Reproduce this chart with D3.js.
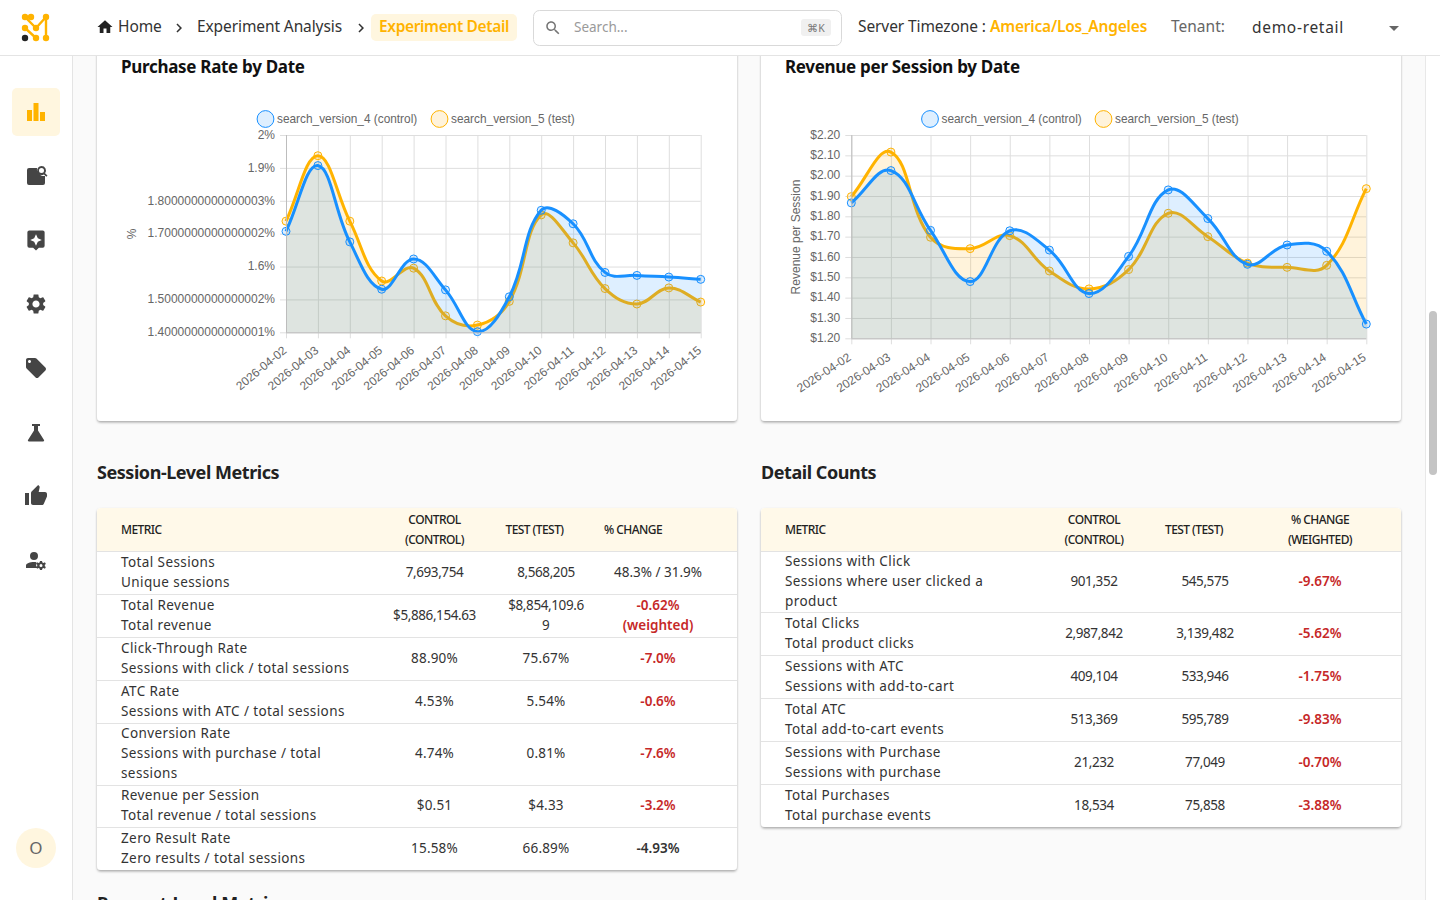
<!DOCTYPE html>
<html><head><meta charset="utf-8">
<script src="https://cdn.jsdelivr.net/npm/d3@7/dist/d3.min.js"></script>
<style>
html,body{margin:0;padding:0;width:1440px;height:900px;overflow:hidden;background:#fafafa}
svg{display:block;position:absolute;left:0;top:0}
text{font-family:"Noto Sans",sans-serif}
.chart text{font-family:"Liberation Sans",Arial,sans-serif}
</style></head><body>
<svg id="page" width="1440" height="900"></svg>
<script>
// ---------- chart data ----------
const dates = ["2026-04-02","2026-04-03","2026-04-04","2026-04-05","2026-04-06","2026-04-07","2026-04-08","2026-04-09","2026-04-10","2026-04-11","2026-04-12","2026-04-13","2026-04-14","2026-04-15"];
const purchaseControl = [1.707,1.907,1.675,1.531,1.623,1.529,1.402,1.508,1.771,1.730,1.582,1.573,1.568,1.561];
const purchaseTest    = [1.738,1.937,1.738,1.556,1.595,1.450,1.422,1.494,1.757,1.672,1.533,1.486,1.535,1.492];
const revenueControl  = [1.866,2.025,1.731,1.479,1.729,1.634,1.420,1.603,1.930,1.789,1.564,1.659,1.628,1.270];
const revenueTest     = [1.897,2.116,1.697,1.641,1.705,1.531,1.443,1.538,1.815,1.700,1.570,1.549,1.559,1.936];
const purchaseTickValues = [1.4,1.5,1.6,1.7,1.8,1.9,2.0];
const purchaseTickLabels = ["1.4000000000000001%","1.5000000000000002%","1.6%","1.7000000000000002%","1.8000000000000003%","1.9%","2%"];
const revenueTickValues = [1.2,1.3,1.4,1.5,1.6,1.7,1.8,1.9,2.0,2.1,2.2];
const revenueTickLabels = ["$1.20","$1.30","$1.40","$1.50","$1.60","$1.70","$1.80","$1.90","$2.00","$2.10","$2.20"];
const legendLabels = ["search_version_4 (control)","search_version_5 (test)"];

// ---------- table data ----------
const sessionHeaders = [["METRIC"],["CONTROL","(CONTROL)"],["TEST (TEST)"],["% CHANGE"]];
const sessionMetrics = [["Total Sessions","Unique sessions"],["Total Revenue","Total revenue"],["Click-Through Rate","Sessions with click / total sessions"],["ATC Rate","Sessions with ATC / total sessions"],["Conversion Rate","Sessions with purchase / total","sessions"],["Revenue per Session","Total revenue / total sessions"],["Zero Result Rate","Zero results / total sessions"]];
const sessionControl = [["7,693,754"],["$5,886,154.63"],["88.90%"],["4.53%"],["4.74%"],["$0.51"],["15.58%"]];
const sessionTest = [["8,568,205"],["$8,854,109.6","9"],["75.67%"],["5.54%"],["0.81%"],["$4.33"],["66.89%"]];
const sessionChange = [["48.3% / 31.9%"],["-0.62%","(weighted)"],["-7.0%"],["-0.6%"],["-7.6%"],["-3.2%"],["-4.93%"]];
const sessionChangeTone = ["plain","bad","bad","bad","bad","bad","dark"];
const detailHeaders = [["METRIC"],["CONTROL","(CONTROL)"],["TEST (TEST)"],["% CHANGE","(WEIGHTED)"]];
const detailMetrics = [["Sessions with Click","Sessions where user clicked a","product"],["Total Clicks","Total product clicks"],["Sessions with ATC","Sessions with add-to-cart"],["Total ATC","Total add-to-cart events"],["Sessions with Purchase","Sessions with purchase"],["Total Purchases","Total purchase events"]];
const detailControl = [["901,352"],["2,987,842"],["409,104"],["513,369"],["21,232"],["18,534"]];
const detailTest = [["545,575"],["3,139,482"],["533,946"],["595,789"],["77,049"],["75,858"]];
const detailChange = [["-9.67%"],["-5.62%"],["-1.75%"],["-9.83%"],["-0.70%"],["-3.88%"]];
const detailChangeTone = ["bad","bad","bad","bad","bad","bad"];

// ---------- palette / icons ----------
const BLUE="#1890ff", AMBER="#ffb300", INK="#1f1f1f", ICON="#454545";
const BLUE_FILL="rgba(24,144,255,.14)", AMBER_FILL="rgba(255,170,0,.14)";
const ICONS = {
 home:"M10 20v-6h4v6h5v-8h3L12 3 2 12h3v8z",
 search:"M15.5 14h-.79l-.28-.27C15.41 12.59 16 11.11 16 9.5 16 5.91 13.09 3 9.5 3S3 5.91 3 9.5 5.91 16 9.5 16c1.61 0 3.09-.59 4.23-1.57l.27.28v.79l5 4.99L20.49 19l-4.99-5zm-6 0C7.01 14 5 11.99 5 9.5S7.01 5 9.5 5 14 7.01 14 9.5 11.99 14 9.5 14z",
 chev:"M8.59 16.59 13.17 12 8.59 7.41 10 6l6 6-6 6z",
 bars:"M3 10h5v11H3zM9.5 3h5v18h-5zM16 12h5v9h-5z",
 report:"M3 6a2 2 0 0 1 2-2h8a7 7 0 0 0 8 8v7a2 2 0 0 1-2 2H5a2 2 0 0 1-2-2zM17.5 2a4.5 4.5 0 0 1 3.6 7.2l2.4 2.4-1.2 1.2-2.4-2.4A4.5 4.5 0 1 1 17.5 2zm0 2a2.5 2.5 0 1 0 0 5 2.5 2.5 0 0 0 0-5z",
 spark:"M19 2H5a2 2 0 0 0-2 2v14a2 2 0 0 0 2 2h4l3 3 3-3h4a2 2 0 0 0 2-2V4a2 2 0 0 0-2-2zm-7 16-1.9-4.1L6 12l4.1-1.9L12 6l1.9 4.1L18 12l-4.1 1.9z",
 gear:"M19.14 12.94c.04-.3.06-.61.06-.94 0-.32-.02-.64-.07-.94l2.03-1.58c.18-.14.23-.41.12-.61l-1.92-3.32c-.12-.22-.37-.29-.59-.22l-2.39.96c-.5-.38-1.03-.7-1.62-.94l-.36-2.54c-.04-.24-.24-.41-.48-.41h-3.84c-.24 0-.43.17-.47.41l-.36 2.54c-.59.24-1.13.57-1.62.94l-2.39-.96c-.22-.08-.47 0-.59.22L2.74 8.87c-.12.21-.08.47.12.61l2.03 1.58c-.05.3-.09.63-.09.94s.02.64.07.94l-2.03 1.58c-.18.14-.23.41-.12.61l1.92 3.32c.12.22.37.29.59.22l2.39-.96c.5.38 1.03.7 1.62.94l.36 2.54c.05.24.24.41.48.41h3.84c.24 0 .44-.17.47-.41l.36-2.54c.59-.24 1.13-.56 1.62-.94l2.39.96c.22.08.47 0 .59-.22l1.92-3.32c.12-.22.07-.47-.12-.61l-2.01-1.58zM12 15.6c-1.98 0-3.6-1.62-3.6-3.6s1.62-3.6 3.6-3.6 3.6 1.62 3.6 3.6-1.62 3.6-3.6 3.6z",
 tag:"M21.41 11.58l-9-9C12.05 2.22 11.55 2 11 2H4c-1.1 0-2 .9-2 2v7c0 .55.22 1.05.59 1.42l9 9c.36.36.86.58 1.41.58s1.05-.22 1.41-.59l7-7c.37-.36.59-.86.59-1.41s-.23-1.06-.59-1.42zM5.5 7C4.67 7 4 6.33 4 5.5S4.67 4 5.5 4 7 4.67 7 5.5 6.33 7 5.5 7z",
 flask:"M8 4h8v2h-2v4.5l6 9.5a1 1 0 0 1-.9 1.5H4.9a1 1 0 0 1-.9-1.5l6-9.5V6H8z",
 thumb:"M1 21h4V9H1v12zm22-11c0-1.1-.9-2-2-2h-6.31l.95-4.57.03-.32c0-.41-.17-.79-.44-1.06L14.17 1 7.59 7.59C7.22 7.95 7 8.45 7 9v10c0 1.1.9 2 2 2h9c.83 0 1.54-.5 1.84-1.22l3.02-7.05c.09-.23.14-.47.14-.73v-2z",
 admin:"M10 4a4 4 0 1 1 0 8 4 4 0 0 1 0-8zM10 14c.9 0 1.6.1 2.4.2A6.5 6.5 0 0 0 13 20H2v-2.5C2 15.5 6 14 10 14zM18 13l.4 1.4 1.2.5 1.3-.7 1 1.7-1.1.9v1.4l1.1.9-1 1.7-1.3-.7-1.2.5-.4 1.4h-2l-.4-1.4-1.2-.5-1.3.7-1-1.7 1.1-.9v-1.4l-1.1-.9 1-1.7 1.3.7 1.2-.5L16 13zm-1 3a1.5 1.5 0 1 0 0 3 1.5 1.5 0 0 0 0-3z"
};

const svg = d3.select("#page");
const icon=(name,x,y,size,fill)=>svg.append("path").attr("d",ICONS[name]).attr("fill",fill)
  .attr("transform",`translate(${x-size/2},${y-size/2}) scale(${size/24})`);
const label=(parent,str,x,y,o={})=>parent.append("text").text(str).attr("x",x).attr("y",y)
  .attr("font-size",o.size||15).attr("font-weight",o.weight||400).attr("fill",o.fill||INK)
  .attr("text-anchor",o.anchor||"start").attr("letter-spacing",o.spacing||0);

// shadow
const defs=svg.append("defs");
const sh=defs.append("filter").attr("id","card").attr("x","-5%").attr("y","-5%").attr("width","110%").attr("height","110%");
sh.append("feDropShadow").attr("dx",0).attr("dy",1.5).attr("stdDeviation",1).attr("flood-color","#000").attr("flood-opacity",.32);

// ---------- page frame ----------
svg.append("rect").attr("width",1440).attr("height",900).attr("fill","#fafafa");

// ---------- charts ----------
function chartSpline(pts){ // cubic spline with tension 0.4, matching the reference library's shape
  const t=0.4,p=d3.path(),d=(a,b)=>Math.hypot(a[0]-b[0],a[1]-b[1]);
  const ctrl=pts.map((c,i)=>{
    const a=pts[i-1]||c,b=pts[i+1]||c,d01=d(a,c),d12=d(c,b),s=d01+d12||1;
    const fa=t*d01/s,fb=t*d12/s;
    return {prev:[c[0]-fa*(b[0]-a[0]),c[1]-fa*(b[1]-a[1])],next:[c[0]+fb*(b[0]-a[0]),c[1]+fb*(b[1]-a[1])]};
  });
  p.moveTo(pts[0][0],pts[0][1]);
  for(let i=1;i<pts.length;i++)p.bezierCurveTo(ctrl[i-1].next[0],ctrl[i-1].next[1],ctrl[i].prev[0],ctrl[i].prev[1],pts[i][0],pts[i][1]);
  return p.toString();
}
function drawChart(c){
  const g=svg.append("g").attr("class","chart");
  const x=d3.scalePoint().domain(dates).range([c.x0,c.x1]);
  const y=d3.scaleLinear().domain(c.domain).range([c.y1,c.y0]);
  // grid
  const GRID="#dedede";
  g.append("g").selectAll("line").data(c.ticks).join("line")
    .attr("x1",c.x0-6).attr("x2",c.x1).attr("y1",d=>y(d)+.5).attr("y2",d=>y(d)+.5).attr("stroke",GRID);
  g.append("g").selectAll("line").data(dates).join("line")
    .attr("x1",d=>x(d)+.5).attr("x2",d=>x(d)+.5).attr("y1",c.y0).attr("y2",c.y1+6).attr("stroke",GRID);
  // y labels
  g.append("g").selectAll("text").data(c.ticks).join("text")
    .attr("x",c.x0-11).attr("y",d=>y(d)+3.8).attr("text-anchor","end").attr("font-size",12).attr("fill","#666")
    .text((d,i)=>c.tickLabels[i]);
  // x labels
  g.append("g").selectAll("text").data(dates).join("text")
    .attr("text-anchor","end").attr("font-size",12).attr("fill","#666")
    .attr("transform",d=>`translate(${x(d)+c.labDx},${c.y1+c.labDy}) rotate(${c.rot})`).text(d=>d);
  // y title
  g.append("text").text(c.yTitle).attr("text-anchor","middle").attr("font-size",12).attr("fill","#666")
    .attr("transform",`translate(${c.titleX},${c.titleY}) rotate(-90)`);
  // series: test first so the control fill lies above it
  [[c.test,AMBER,AMBER_FILL],[c.control,BLUE,BLUE_FILL]].forEach(([vals,col,fill])=>{
    const pts=vals.map((v,i)=>[x(dates[i]),y(v)]);
    g.append("path").attr("d",chartSpline(pts)+`L${pts[pts.length-1][0]},${y(c.domain[0])}L${pts[0][0]},${y(c.domain[0])}Z`).attr("fill",fill);
    g.append("path").attr("d",chartSpline(pts)).attr("fill","none").attr("stroke",col).attr("stroke-width",3);
    g.append("g").selectAll("circle").data(vals).join("circle")
      .attr("cx",(d,i)=>x(dates[i])).attr("cy",d=>y(d)).attr("r",4)
      .attr("fill",fill).attr("stroke",col).attr("stroke-width",1);
  });
  // axis baselines
  g.append("line").attr("x1",c.x0+.5).attr("x2",c.x0+.5).attr("y1",c.y0).attr("y2",c.y1).attr("stroke","#bdbdbd");
  g.append("line").attr("x1",c.x0).attr("x2",c.x1).attr("y1",c.y1+.5).attr("y2",c.y1+.5).attr("stroke","#bdbdbd");
  // legend
  [[BLUE,BLUE_FILL,c.leg0],[AMBER,AMBER_FILL,c.leg1]].forEach(([col,fill,lx],i)=>{
    g.append("circle").attr("cx",lx).attr("cy",119).attr("r",8.4).attr("fill",fill).attr("stroke",col).attr("stroke-width",1);
    g.append("text").text(legendLabels[i]).attr("x",lx+11.5).attr("y",123).attr("font-size",11.85).attr("fill","#666");
  });
}
const charts=[
 {card:97,title:"Purchase Rate by Date",x0:286,x1:700.7,y0:135,y1:332.3,domain:[1.4,2.0],ticks:purchaseTickValues,tickLabels:purchaseTickLabels,control:purchaseControl,test:purchaseTest,rot:-39.5,labDx:1.5,labDy:19.5,yTitle:"%",titleX:135.5,titleY:234,leg0:265.5,leg1:439.5},
 {card:761,title:"Revenue per Session by Date",x0:851.3,x1:1366.3,y0:135,y1:338.3,domain:[1.2,2.2],ticks:revenueTickValues,tickLabels:revenueTickLabels,control:revenueControl,test:revenueTest,rot:-33,labDx:.5,labDy:21,yTitle:"Revenue per Session",titleX:800,titleY:237,leg0:930,leg1:1103.5}
];
charts.forEach(c=>{
  svg.append("rect").attr("x",c.card).attr("y",40).attr("width",640).attr("height",381).attr("rx",4).attr("fill","#fff").attr("filter","url(#card)");
  label(svg,c.title,c.card+24,73,{size:17,weight:700,fill:"#111",spacing:-.3});
  drawChart(c);
});

// ---------- tables ----------
function valueSpacing(s){return s.includes(",")?-.4:(s.includes(" / ")?0:.2);}
function drawTable(t){
  label(svg,t.title,t.x,479,{size:18,weight:700,fill:"#222",spacing:-.45});
  const bottom=t.rows[t.rows.length-1];
  svg.append("rect").attr("x",t.x).attr("y",t.top).attr("width",640).attr("height",bottom-t.top).attr("rx",4).attr("fill","#fff").attr("filter","url(#card)");
  svg.append("path").attr("d",`M${t.x} 551V${t.top+4}a4 4 0 0 1 4-4H${t.x+636}a4 4 0 0 1 4 4V551Z`).attr("fill","#fff9e9");
  const lines=(arr,x,mid,o,lh)=>arr.forEach((s,i)=>label(svg,s,x,mid+(i-(arr.length-1)/2)*lh+4,typeof o==="function"?o(s):o));
  t.headers.forEach((h,j)=>lines(h,j===0?t.x+24:t.headCols[j-1],529.5,{size:12,weight:500,fill:"#222",anchor:j===0?"start":"middle",spacing:-.55},20));
  const bands=d3.pairs([551,...t.rows]);
  bands.forEach(([a,b],i)=>{
    const mid=(a+b)/2;
    svg.append("line").attr("x1",t.x).attr("x2",t.x+640).attr("y1",a+.5).attr("y2",a+.5).attr("stroke","#e3e3e3");
    lines(t.metrics[i],t.x+24,mid,{size:13.5,fill:"#333",spacing:.4},20);
    const val=s=>({size:13.5,fill:"#333",anchor:"middle",spacing:valueSpacing(s)});
    lines(t.control[i],t.cols[0],mid,val,20);
    lines(t.testVals[i],t.cols[1],mid,val,20);
    const tone=t.tones[i];
    lines(t.change[i],t.cols[2],mid,{size:13.5,anchor:"middle",weight:tone==="plain"?400:600,fill:tone==="bad"?"#c62828":"#333"},20);
  });
}
drawTable({title:"Session-Level Metrics",x:97,top:508,rows:[594,637,680,723,785,827,870],cols:[434.5,546,658],headCols:[434.5,534.5,633],headers:sessionHeaders,metrics:sessionMetrics,control:sessionControl,testVals:sessionTest,change:sessionChange,tones:sessionChangeTone});
drawTable({title:"Detail Counts",x:761,top:508,rows:[612,655,698,741,784,827],cols:[1094,1205,1320],headCols:[1094,1194,1320],headers:detailHeaders,metrics:detailMetrics,control:detailControl,testVals:detailTest,change:detailChange,tones:detailChangeTone});
label(svg,"Request-Level Metrics",97,910,{size:18,weight:700,fill:"#222",spacing:-.45});

// ---------- right scroll rail ----------
svg.append("rect").attr("x",1425).attr("y",55).attr("width",15).attr("height",845).attr("fill","#fff");
svg.append("line").attr("x1",1425.5).attr("x2",1425.5).attr("y1",55).attr("y2",900).attr("stroke","#e8e8e8");
svg.append("rect").attr("x",1429).attr("y",311).attr("width",8).attr("height",164).attr("rx",4).attr("fill","#c4c4c4");

// ---------- sidebar ----------
svg.append("rect").attr("x",0).attr("y",55).attr("width",72).attr("height",845).attr("fill","#fff");
svg.append("line").attr("x1",72.5).attr("x2",72.5).attr("y1",55).attr("y2",900).attr("stroke","#e4e4e4");
svg.append("rect").attr("x",12).attr("y",88).attr("width",48).attr("height",48).attr("rx",5).attr("fill","#fff6df");
icon("bars",36,112,24,AMBER);
icon("report",36,176,24,ICON);
icon("spark",36,240,23,ICON);
icon("gear",36,304,24,ICON);
icon("tag",36,368,24,ICON);
icon("flask",36,432,24,ICON);
icon("thumb",36,496,24,ICON);
icon("admin",36,560,24,ICON);
svg.append("circle").attr("cx",36).attr("cy",848).attr("r",20).attr("fill","#fff6df");
label(svg,"O",36,854,{size:17,fill:"#666",anchor:"middle"});

// ---------- header ----------
svg.append("rect").attr("width",1440).attr("height",55).attr("fill","#fff");
svg.append("line").attr("x1",0).attr("x2",1440).attr("y1",55.5).attr("y2",55.5).attr("stroke","#e4e4e4");
const logo=svg.append("g");
logo.append("path").attr("d","M25 17L36 28L46 17V38M25 28L36 38").attr("fill","none").attr("stroke",AMBER).attr("stroke-width",2.4);
[[25,17,AMBER],[31,17,AMBER],[46,17,AMBER],[36,28,AMBER],[25,28,AMBER],[25,38,"#222"],[36,38,AMBER],[46,38,AMBER]].forEach(([cx,cy,f])=>logo.append("circle").attr("cx",cx).attr("cy",cy).attr("r",3.2).attr("fill",f));
icon("home",105,27,18,"#222");
label(svg,"Home",118,32,{size:15.5,fill:"#333",spacing:-.1});
icon("chev",179,28,18,"#333");
label(svg,"Experiment Analysis",197,32,{size:15.5,fill:"#333",spacing:-.1});
icon("chev",361,28,18,"#333");
svg.append("rect").attr("x",371).attr("y",14).attr("width",146).attr("height",27).attr("rx",5).attr("fill","#fff6df");
label(svg,"Experiment Detail",379,32,{size:15.5,weight:600,fill:AMBER,spacing:-.35});
svg.append("rect").attr("x",533.5).attr("y",10.5).attr("width",308).attr("height",35).attr("rx",6).attr("fill","#fff").attr("stroke","#d9d9d9");
icon("search",553,28,18,"#757575");
label(svg,"Search...",574,32,{size:13.5,fill:"#9a9a9a"});
svg.append("rect").attr("x",801).attr("y",19).attr("width",30).attr("height",17).attr("rx",3).attr("fill","#f0f0f0");
label(svg,"⌘K",816,32,{size:10.5,fill:"#777",anchor:"middle"});
label(svg,"Server Timezone :",858,32,{size:15.5,fill:"#333",spacing:-.1});
label(svg,"America/Los_Angeles",990,32,{size:15.5,weight:600,fill:AMBER,spacing:-.2});
label(svg,"Tenant:",1171,32,{size:15.5,fill:"#666"});
label(svg,"demo-retail",1252,33,{size:15.5,fill:"#333",spacing:.7});
svg.append("path").attr("d","M1389 26h10l-5 5z").attr("fill","#666");
</script>
</body></html>
